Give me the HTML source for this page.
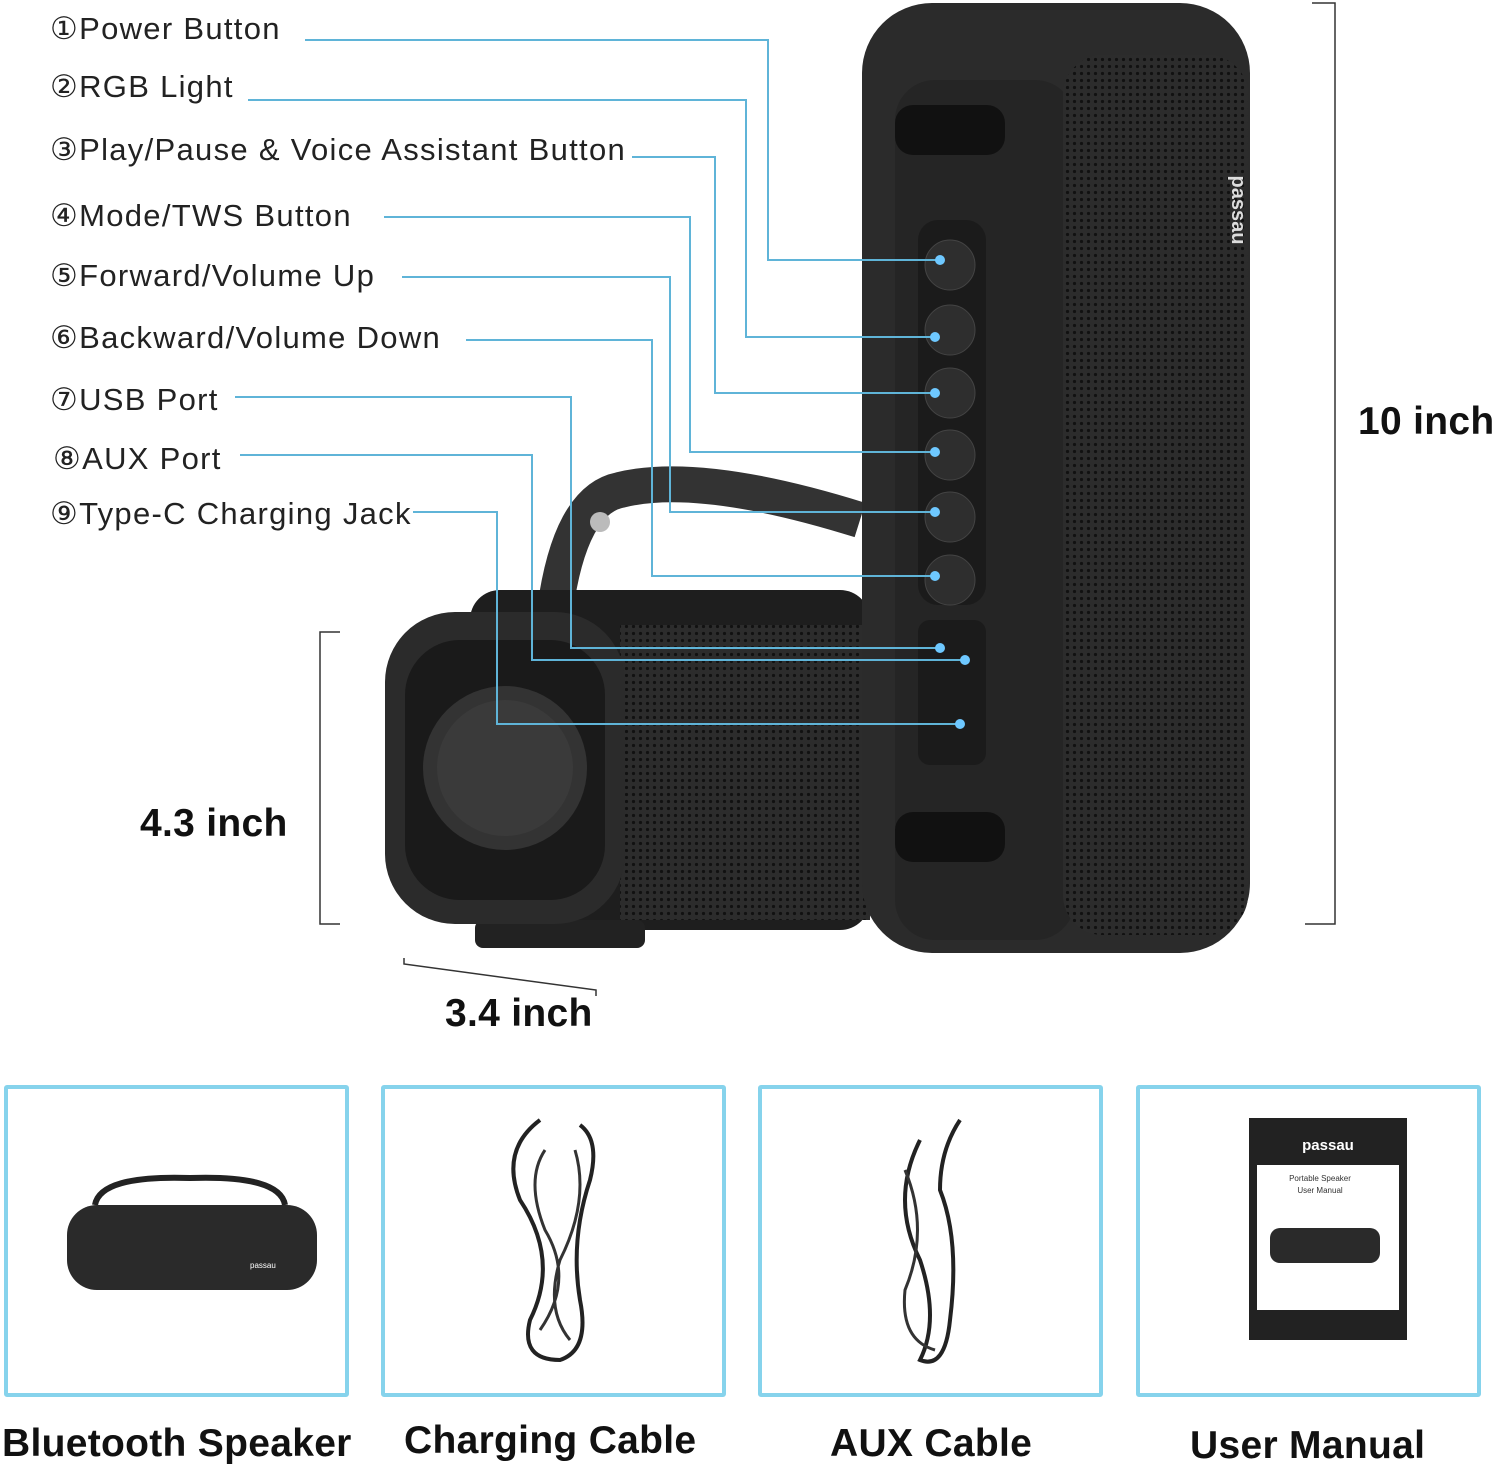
<!DOCTYPE html>
<html><head><meta charset="utf-8"><style>
body{margin:0;background:#fff;width:1500px;height:1468px;overflow:hidden;position:relative;font-family:"Liberation Sans","DejaVu Sans",sans-serif}
.l{position:absolute;left:50px;font-size:31px;color:#222;white-space:nowrap;letter-spacing:1.3px}
.b{position:absolute;font-weight:bold;font-size:39px;color:#111;white-space:nowrap;letter-spacing:0.3px}
.box{position:absolute;top:1085px;width:337px;height:304px;border:4px solid #86d3ec;border-radius:3px}
</style></head><body>
<svg width="1500" height="1468" style="position:absolute;left:0;top:0">
<defs><pattern id="g" width="7" height="7" patternUnits="userSpaceOnUse"><rect width="7" height="7" fill="#2c2c2c"/><circle cx="3.5" cy="3.5" r="1.6" fill="#111"/></pattern></defs>
<!-- horizontal speaker -->
<path d="M555 610 Q570 500 620 490 Q700 470 860 520" stroke="#333" stroke-width="36" fill="none"/>
<circle cx="600" cy="522" r="10" fill="#bbb"/>
<rect x="470" y="590" width="400" height="340" rx="30" fill="#1e1e1e"/>
<rect x="620" y="625" width="250" height="295" fill="url(#g)"/>
<rect x="475" y="920" width="170" height="28" rx="8" fill="#222"/>
<rect x="385" y="612" width="240" height="312" rx="70" fill="#2b2b2b"/>
<rect x="405" y="640" width="200" height="260" rx="55" fill="#1a1a1a"/>
<circle cx="505" cy="768" r="82" fill="#333"/>
<circle cx="505" cy="768" r="68" fill="#3a3a3a"/>
<!-- tall speaker -->
<rect x="862" y="3" width="388" height="950" rx="70" fill="#2b2b2b"/>
<rect x="895" y="80" width="180" height="860" rx="40" fill="#252525"/>
<rect x="1063" y="55" width="185" height="880" rx="40" fill="url(#g)"/>
<rect x="895" y="105" width="110" height="50" rx="18" fill="#111"/>
<rect x="895" y="812" width="110" height="50" rx="18" fill="#111"/>
<rect x="918" y="220" width="68" height="385" rx="20" fill="#1b1b1b"/>
<g fill="#2e2e2e" stroke="#444">
<circle cx="950" cy="265" r="25"/><circle cx="950" cy="330" r="25"/><circle cx="950" cy="393" r="25"/>
<circle cx="950" cy="455" r="25"/><circle cx="950" cy="517" r="25"/><circle cx="950" cy="580" r="25"/></g>
<rect x="918" y="620" width="68" height="145" rx="12" fill="#1b1b1b"/>
<text x="1232" y="210" transform="rotate(90 1232 210)" fill="#ddd" font-size="20" font-weight="bold" font-family="Liberation Sans" text-anchor="middle">passau</text>
<!-- leader lines -->
<g stroke="#5fb4d8" stroke-width="2" fill="none">
<polyline points="305,40 768,40 768,260 940,260"/>
<polyline points="248,100 746,100 746,337 935,337"/>
<polyline points="632,157 715,157 715,393 935,393"/>
<polyline points="384,217 690,217 690,452 935,452"/>
<polyline points="402,277 670,277 670,512 935,512"/>
<polyline points="466,340 652,340 652,576 935,576"/>
<polyline points="235,397 571,397 571,648 940,648"/>
<polyline points="240,455 532,455 532,660 965,660"/>
<polyline points="413,512 497,512 497,724 960,724"/>
</g>
<g fill="#6ec8ff"><circle cx="940" cy="260" r="5"/><circle cx="935" cy="337" r="5"/><circle cx="935" cy="393" r="5"/><circle cx="935" cy="452" r="5"/><circle cx="935" cy="512" r="5"/><circle cx="935" cy="576" r="5"/><circle cx="940" cy="648" r="5"/><circle cx="965" cy="660" r="5"/><circle cx="960" cy="724" r="5"/></g>
<!-- dimension lines -->
<g stroke="#333" stroke-width="1.5" fill="none">
<polyline points="1312,3 1335,3 1335,924 1305,924"/>
<polyline points="340,632 320,632 320,924 340,924"/>
<polyline points="404,958 404,964 596,990 596,996"/>
</g>
<!-- box contents -->
<path d="M95 1205 Q100 1175 190 1178 Q280 1175 285 1205" stroke="#222" stroke-width="6" fill="none"/>
<rect x="67" y="1205" width="250" height="85" rx="30" fill="#2a2a2a"/>
<text x="250" y="1268" fill="#fff" font-size="8" font-family="Liberation Sans">passau</text>
<path d="M540 1120 Q500 1150 520 1200 Q560 1260 530 1320 Q520 1360 560 1360 Q590 1350 580 1300 Q570 1240 590 1180 Q600 1140 580 1125" stroke="#222" stroke-width="4" fill="none"/>
<path d="M545 1150 Q525 1180 545 1230 Q575 1280 540 1330 M575 1150 Q590 1200 560 1260 Q545 1310 570 1340" stroke="#333" stroke-width="3" fill="none"/>
<path d="M920 1140 Q890 1200 920 1260 Q940 1320 920 1360 Q945 1370 950 1320 Q960 1240 940 1190 Q940 1150 960 1120" stroke="#222" stroke-width="4" fill="none"/>
<path d="M905 1170 Q930 1230 905 1290 Q900 1340 935 1350" stroke="#333" stroke-width="3" fill="none"/>
<rect x="1249" y="1118" width="158" height="222" fill="#222"/>
<rect x="1257" y="1165" width="142" height="145" fill="#fff"/>
<text x="1328" y="1150" fill="#fff" font-size="15" font-weight="bold" text-anchor="middle" font-family="Liberation Sans">passau</text>
<text x="1320" y="1181" fill="#333" font-size="8" text-anchor="middle" font-family="Liberation Sans">Portable Speaker</text>
<text x="1320" y="1193" fill="#333" font-size="8" text-anchor="middle" font-family="Liberation Sans">User Manual</text>
<rect x="1270" y="1228" width="110" height="35" rx="10" fill="#2a2a2a"/>
</svg>
<div class="l" style="top:11px">①Power Button</div>
<div class="l" style="top:69px">②RGB Light</div>
<div class="l" style="top:132px">③Play/Pause &amp; Voice Assistant Button</div>
<div class="l" style="top:198px">④Mode/TWS Button</div>
<div class="l" style="top:258px">⑤Forward/Volume Up</div>
<div class="l" style="top:320px">⑥Backward/Volume Down</div>
<div class="l" style="top:382px">⑦USB Port</div>
<div class="l" style="top:441px;left:53px">⑧AUX Port</div>
<div class="l" style="top:496px">⑨Type-C Charging Jack</div>
<div class="b" style="left:1358px;top:400px">10 inch</div>
<div class="b" style="left:140px;top:802px">4.3 inch</div>
<div class="b" style="left:445px;top:992px">3.4 inch</div>
<div class="box" style="left:4px"></div>
<div class="box" style="left:381px"></div>
<div class="box" style="left:758px"></div>
<div class="box" style="left:1136px"></div>
<div class="b" style="left:2px;top:1422px">Bluetooth Speaker</div>
<div class="b" style="left:404px;top:1419px">Charging Cable</div>
<div class="b" style="left:830px;top:1422px">AUX Cable</div>
<div class="b" style="left:1190px;top:1424px">User Manual</div>
</body></html>
